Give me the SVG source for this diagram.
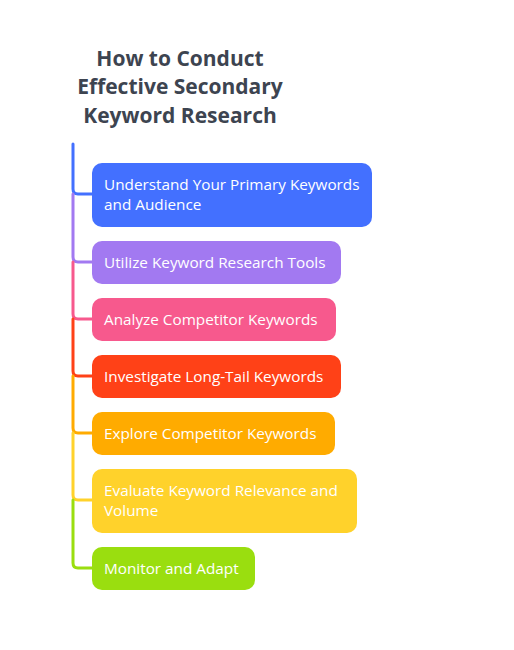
<svg xmlns="http://www.w3.org/2000/svg" width="514" height="650" viewBox="0 0 514 650">
<style>
.title{font-family:"Open Sans","Liberation Sans",sans-serif;font-weight:bold;font-size:21px;fill:#3d4450;text-anchor:middle}
.lbl{font-family:"Open Sans","Liberation Sans",sans-serif;font-size:15.3px;fill:#ffffff}
.c{fill:none;stroke-width:3;stroke-linecap:round}
</style>
<rect width="514" height="650" fill="#ffffff"/>
<g id="title">
<text class="title" x="180" y="66">How to Conduct</text>
<text class="title" x="180" y="94">Effective Secondary</text>
<text class="title" x="180" y="123">Keyword Research</text>
</g>
<g id="connectors">
<path class="c" stroke="#4370ff" d="M73,144 L73,189 Q73,194 78,194 L93,194"/>
<path class="c" stroke="#a279f1" d="M73,194 L73,257 Q73,262 78,262 L93,262"/>
<path class="c" stroke="#f7598d" d="M73,262 L73,314 Q73,319 78,319 L93,319"/>
<path class="c" stroke="#ff4117" d="M73,319 L73,371 Q73,376 78,376 L93,376"/>
<path class="c" stroke="#ffab00" d="M73,376 L73,428 Q73,433 78,433 L93,433"/>
<path class="c" stroke="#ffd22b" d="M73,433 L73,495 Q73,500 78,500 L93,500"/>
<path class="c" stroke="#9ade0f" d="M73,500 L73,563 Q73,568 78,568 L93,568"/>
</g>
<g id="n1"><rect x="92" y="163" width="280" height="64" rx="10" fill="#4370ff"/>
<text class="lbl" x="104" y="190">Understand Your Primary Keywords</text>
<text class="lbl" x="104" y="210">and Audience</text></g>
<g id="n2"><rect x="92" y="241" width="249" height="43" rx="10" fill="#a279f1"/>
<text class="lbl" x="104" y="268">Utilize Keyword Research Tools</text></g>
<g id="n3"><rect x="92" y="298" width="244" height="43" rx="10" fill="#f7598d"/>
<text class="lbl" x="104" y="325">Analyze Competitor Keywords</text></g>
<g id="n4"><rect x="92" y="355" width="249" height="43" rx="10" fill="#ff4117"/>
<text class="lbl" x="104" y="382">Investigate Long-Tail Keywords</text></g>
<g id="n5"><rect x="92" y="412" width="243" height="43" rx="10" fill="#ffab00"/>
<text class="lbl" x="104" y="439">Explore Competitor Keywords</text></g>
<g id="n6"><rect x="92" y="469" width="265" height="64" rx="10" fill="#ffd22b"/>
<text class="lbl" x="104" y="496">Evaluate Keyword Relevance and</text>
<text class="lbl" x="104" y="516">Volume</text></g>
<g id="n7"><rect x="92" y="547" width="163" height="43" rx="10" fill="#9ade0f"/>
<text class="lbl" x="104" y="574">Monitor and Adapt</text></g>
</svg>
